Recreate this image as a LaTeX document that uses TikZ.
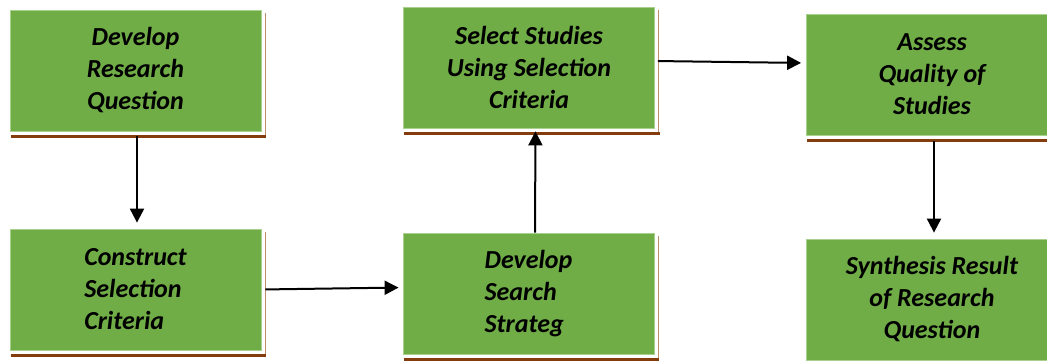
\documentclass[tikz,border=0pt]{standalone}
\usepackage{fontspec}
\setmainfont{Carlito}
\usetikzlibrary{arrows.meta}

\definecolor{boxgreen}{RGB}{112,173,71}
\definecolor{boxedge}{RGB}{169,209,142}
\definecolor{shadowbrown}{RGB}{132,60,12}
\definecolor{shadowlight}{RGB}{190,145,110}

\begin{document}
\begin{tikzpicture}[x=1pt, y=-1pt,
  box/.style={rectangle, draw=boxedge, line width=0.8pt, fill=boxgreen,
    minimum width=251pt, minimum height=121pt, inner sep=0pt, align=center,
    font=\fontsize{26}{32}\selectfont\bfseries\itshape},
  arrow/.style={-{Triangle[length=14pt,width=14pt]}, line width=2pt},
]
\useasboundingbox (0,0) rectangle (1047,362);
\clip (0,0) rectangle (1047,362);

\node[box] (devq) at (135.5,70.5) {Develop\\Research\\Question};
\node[box, align=left] (cons) at (135.5,289.5) {Construct\\Selection\\Criteria};
\node[box] (sel) at (529,67.5) {Select Studies\\Using Selection\\Criteria};
\node[box, align=left] (strat) at (528.5,293.5) {Develop\\Search\\Strateg};
\node[box] (asq) at (932,74.5) {Assess\\Quality of\\Studies};
\node[box] (syn) at (932,299.5) {Synthesis Result\\of Research\\Question};

% brown shadow edges
\foreach \n in {devq,cons,sel,strat,asq,syn}{
  \draw[shadowlight, line width=1pt] ([xshift=4pt,yshift=-3pt]\n.north east) -- ([xshift=4pt,yshift=-4pt]\n.south east);
  \draw[shadowbrown, line width=3pt] ([xshift=1pt,yshift=-5.5pt]\n.south west) -- ([xshift=5pt,yshift=-5.5pt]\n.south east);
}

\draw[arrow, shorten <=5pt, shorten >=6pt] ([xshift=1.5pt]devq.south) -- ([xshift=1.5pt]cons.north);
\draw[arrow, shorten <=4pt, shorten >=4pt] (cons.east) -- ([yshift=6pt]strat.west);
\draw[arrow, shorten >=3pt] ([xshift=6.5pt]strat.north) -- ([xshift=6.5pt]sel.south);
\draw[arrow, shorten <=3pt, shorten >=5pt] ([yshift=6.5pt]sel.east) -- ([yshift=11.5pt]asq.west);
\draw[arrow, shorten <=6pt, shorten >=6pt] ([xshift=2pt]asq.south) -- ([xshift=2pt]syn.north);
\end{tikzpicture}
\end{document}
